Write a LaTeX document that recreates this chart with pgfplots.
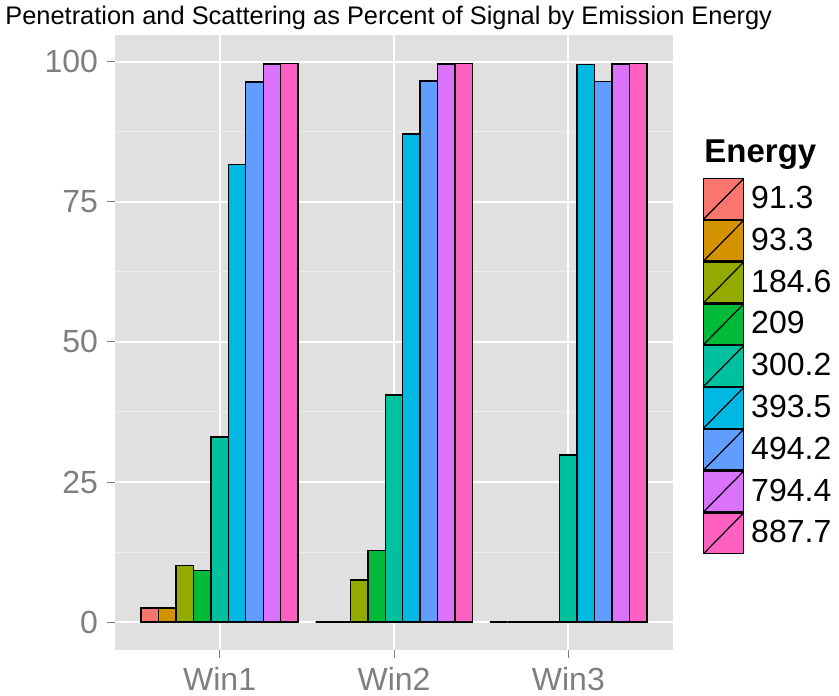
\documentclass[border=0pt]{standalone}
\usepackage{pgfplots}
\pgfplotsset{compat=1.18}
\usepackage{fontspec}
\setmainfont{Liberation Sans}
\definecolor{panelbg}{HTML}{E0E0E0}
\definecolor{panelminor}{HTML}{EDEDED}
\definecolor{tickgrey}{HTML}{7F7F7F}
\definecolor{cA}{HTML}{F8766D}
\definecolor{cB}{HTML}{D39200}
\definecolor{cC}{HTML}{93AA00}
\definecolor{cD}{HTML}{00BA38}
\definecolor{cE}{HTML}{00C19F}
\definecolor{cF}{HTML}{00B9E3}
\definecolor{cG}{HTML}{619CFF}
\definecolor{cH}{HTML}{DB72FB}
\definecolor{cI}{HTML}{FF61C3}
\pgfplotsset{
  mybar/.style={ybar, bar shift=0pt, bar width=0.1, draw=black, line width=0.7pt, fill=#1,
    legend image code/.code={
      \draw[fill=#1, draw=black, line width=0.6pt] (0pt,-10.15pt) rectangle (20pt,10.15pt);
      \draw[black, line width=0.6pt] (0pt,-10.15pt) -- (20pt,10.15pt);
    }},
}
\begin{document}
\begin{tikzpicture}
\useasboundingbox (0,0) rectangle (419.5pt,347.5pt);
\node[anchor=base west, inner sep=0pt, font=\fontsize{12.7}{14}\selectfont] at (2.5pt,335pt) {Penetration and Scattering as Percent of Signal by Emission Energy};
\node[anchor=base west, inner sep=0pt, font=\fontsize{16.5}{18}\selectfont\bfseries] at (352pt,266pt) {Energy};
\begin{axis}[
  at={(57.5pt,22.5pt)}, anchor=south west,
  width=279pt, height=307.5pt, scale only axis,
  xmin=0.4, xmax=3.6, ymin=-4.99, ymax=104.8,
  axis background/.style={fill=panelbg},
  axis line style={draw=none},
  xtick={1,2,3}, xticklabels={Win1,Win2,Win3},
  ytick={0,25,50,75,100},
  minor ytick={12.5,37.5,62.5,87.5},
  grid=both,
  major grid style={white, line width=1.1pt},
  minor grid style={panelminor, line width=0.5pt},
  tick align=outside, tick pos=left,
  major tick length=4pt, minor tick length=0pt,
  tick style={tickgrey, line width=0.5pt},
  /pgf/number format/assume math mode=true,
  ticklabel style={text=tickgrey, font=\fontsize{16}{18}\selectfont},
  yticklabel style={xshift=-1pt},
  xticklabel style={yshift=-1pt},
  legend style={at={(axis description cs:1.0538,0.7675)}, anchor=north west,
    draw=none, fill=none, inner sep=0pt, outer sep=0pt, row sep=0pt,
    column sep=3.5pt,
    nodes={inner sep=0pt, font=\fontsize{16}{18}\selectfont}},
  legend cell align=left,
]
\addplot[mybar=cA] coordinates {(0.6,2.5) (1.6,0) (2.6,0)};
\addlegendentry{91.3}
\addplot[mybar=cB] coordinates {(0.7,2.5) (1.7,0) (2.7,0)};
\addlegendentry{93.3}
\addplot[mybar=cC] coordinates {(0.8,10.1) (1.8,7.5) (2.8,0)};
\addlegendentry{184.6}
\addplot[mybar=cD] coordinates {(0.9,9.2) (1.9,12.8) (2.9,0)};
\addlegendentry{209}
\addplot[mybar=cE] coordinates {(1.0,33.0) (2.0,40.5) (3.0,29.8)};
\addlegendentry{300.2}
\addplot[mybar=cF] coordinates {(1.1,81.7) (2.1,87.1) (3.1,99.5)};
\addlegendentry{393.5}
\addplot[mybar=cG] coordinates {(1.2,96.4) (2.2,96.6) (3.2,96.5)};
\addlegendentry{494.2}
\addplot[mybar=cH] coordinates {(1.3,99.6) (2.3,99.6) (3.3,99.6)};
\addlegendentry{794.4}
\addplot[mybar=cI] coordinates {(1.4,99.7) (2.4,99.7) (3.4,99.7)};
\addlegendentry{887.7}
\end{axis}
\end{tikzpicture}
\end{document}
